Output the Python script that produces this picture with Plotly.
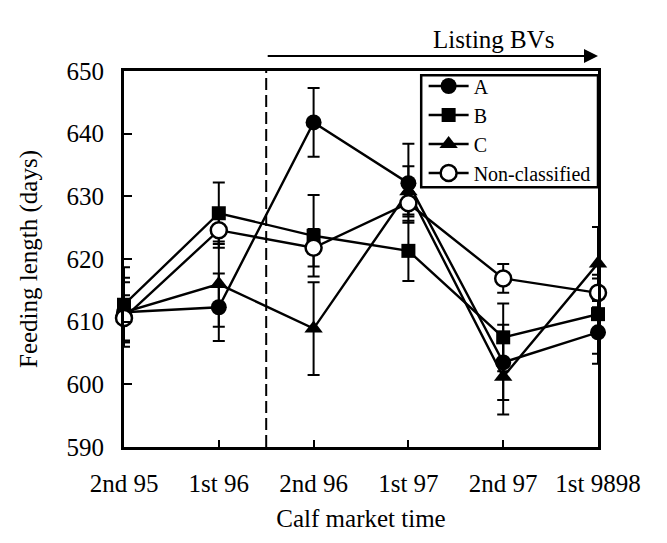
import plotly.graph_objects as go

categories = ["2nd 95", "1st 96", "2nd 96", "1st 97", "2nd 97", "1st 9898"]

a_vals = [611.5, 612.3, 641.8, 632.1, 603.5, 608.3]
a_err = [5.5, 5.4, 5.5, 6.3, 6.0, 5.0]
b_vals = [612.7, 627.3, 623.7, 621.3, 607.5, 611.2]
b_err = [6.0, 4.9, 6.5, 4.8, 5.4, 6.3]
c_vals = [611.5, 616.0, 608.9, 630.8, 601.2, 619.3]
c_err = [4.8, 6.8, 7.4, 4.0, 6.0, 5.8]
nc_vals = [610.6, 624.6, 621.8, 628.9, 616.9, 614.6]
nc_err = [3.6, 2.8, 3.0, 1.8, 2.3, 2.3]

series_names = ["A", "B", "C", "Non-classified"]
y_ticks = [590, 600, 610, 620, 630, 640, 650]
listing_start = 1.5

FONT = "Times New Roman, Liberation Serif, serif"
xs = list(range(len(categories)))

styles = [
    (a_vals, a_err, dict(symbol="circle", size=16, color="black")),
    (b_vals, b_err, dict(symbol="square", size=14, color="black")),
    (c_vals, c_err, dict(symbol="triangle-up", size=16, color="black")),
    (nc_vals, nc_err, dict(symbol="circle", size=16, color="white",
                            line=dict(color="black", width=2.5))),
]

fig = go.Figure()
for name, (vals, err, mk) in zip(series_names, styles):
    fig.add_trace(go.Scatter(
        x=xs, y=vals, name=name, mode="lines+markers",
        line=dict(color="black", width=2.4),
        marker=mk,
        error_y=dict(type="data", array=err, visible=True,
                     color="black", thickness=2, width=6),
        cliponaxis=False,
    ))

fig.add_shape(type="line", x0=listing_start, x1=listing_start, y0=0, y1=1,
              xref="x", yref="paper",
              line=dict(color="black", width=2, dash="12px,5px"))

# legend frame
fig.add_shape(type="rect", x0=0.627, x1=1.0, y0=0.691, y1=0.989,
              xref="paper", yref="paper", layer="above",
              fillcolor="white", line=dict(color="black", width=2.5))

fig.add_annotation(x=len(categories) - 1, y=1.04, xref="x", yref="paper",
                   ax=listing_start, axref="x", ay=0, ayref="pixel",
                   text="", showarrow=True, arrowhead=2, arrowsize=1.4,
                   arrowwidth=2, arrowcolor="black")
fig.add_annotation(x=3.9, y=1.125, xref="x", yref="paper",
                   text="Listing BVs", showarrow=False,
                   font=dict(family=FONT, size=25, color="black"))

fig.update_layout(
    width=667, height=543,
    margin=dict(l=124, r=69, t=71, b=96),
    plot_bgcolor="white", paper_bgcolor="white",
    font=dict(family=FONT, size=25, color="black"),
    showlegend=True,
    legend=dict(x=0.995, y=1.012, xanchor="right", yanchor="top",
                borderwidth=0, bgcolor="rgba(0,0,0,0)",
                font=dict(family=FONT, size=20), tracegroupgap=0,
                itemwidth=40),
    xaxis=dict(range=[0, len(categories) - 1], tickvals=xs,
               ticktext=categories, ticks="inside", ticklen=7,
               tickwidth=2, tickcolor="black", showline=True,
               linecolor="black", linewidth=3, mirror=True,
               showgrid=False, zeroline=False, ticklabelstandoff=12,
               title=dict(text="Calf market time", standoff=14,
                          font=dict(family=FONT, size=25)),
               tickfont=dict(family=FONT, size=25)),
    yaxis=dict(range=[590, 650], tickvals=y_ticks, ticks="inside",
               ticklen=8, tickwidth=2, tickcolor="black", showline=True,
               linecolor="black", linewidth=3, mirror=True,
               showgrid=False, zeroline=False, ticklabelstandoff=12,
               title=dict(text="Feeding length (days)", standoff=22,
                          font=dict(family=FONT, size=25)),
               tickfont=dict(family=FONT, size=25)),
)

fig.write_html("out.html")
